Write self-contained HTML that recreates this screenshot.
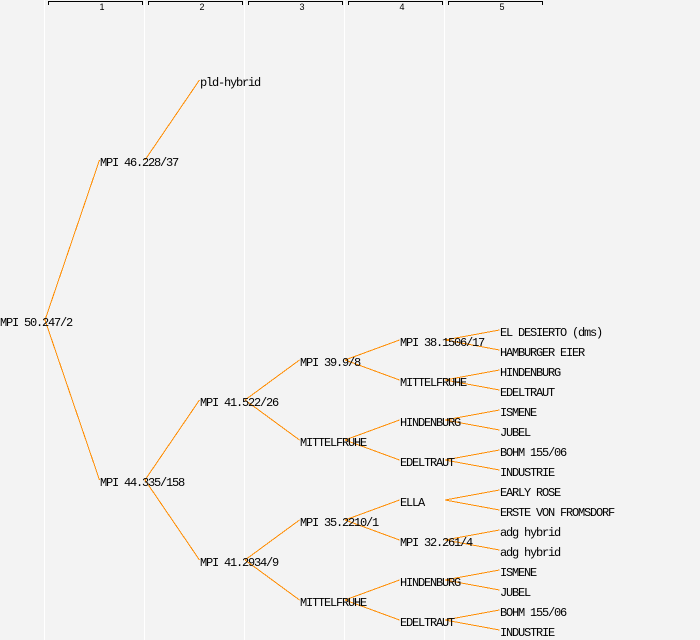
<!DOCTYPE html>
<html>
<head>
<meta charset="utf-8">
<style>
html,body{margin:0;padding:0;background:#f3f3f3;}
svg{display:block;}
text.n{font-family:"Liberation Mono",monospace;font-size:12px;letter-spacing:-1.2px;fill:#000;}
text.h{font-family:"Liberation Sans",sans-serif;font-size:9px;fill:#000;}
</style>
</head>
<body>
<svg width="700" height="640" viewBox="0 0 700 640" xmlns="http://www.w3.org/2000/svg">
<rect x="0" y="0" width="700" height="640" fill="#f3f3f3"/>
<g fill="#ffffff">
<rect x="44" y="0" width="1" height="640"/>
<rect x="144" y="0" width="1" height="640"/>
<rect x="244" y="0" width="1" height="640"/>
<rect x="344" y="0" width="1" height="640"/>
<rect x="444" y="0" width="1" height="640"/>
</g>
<g stroke="#000" stroke-width="1" fill="none" shape-rendering="crispEdges">
<path d="M48.5 5V1.5H142.5V5"/>
<path d="M148.5 5V1.5H242.5V5"/>
<path d="M248.5 5V1.5H342.5V5"/>
<path d="M348.5 5V1.5H442.5V5"/>
<path d="M448.5 5V1.5H542.5V5"/>
</g>
<g text-anchor="middle">
<text class="h" x="102" y="10">1</text>
<text class="h" x="202" y="10">2</text>
<text class="h" x="302" y="10">3</text>
<text class="h" x="402" y="10">4</text>
<text class="h" x="502" y="10">5</text>
</g>
<g stroke="#ff8c00" stroke-width="1" fill="none" shape-rendering="crispEdges">
<line x1="45" y1="320" x2="99.5" y2="160"/>
<line x1="45" y1="320" x2="99.5" y2="480"/>
<line x1="145" y1="160" x2="199.5" y2="80"/>
<line x1="145" y1="480" x2="199.5" y2="400"/>
<line x1="145" y1="480" x2="199.5" y2="560"/>
<line x1="245" y1="400" x2="299.5" y2="360"/>
<line x1="245" y1="400" x2="299.5" y2="440"/>
<line x1="245" y1="560" x2="299.5" y2="520"/>
<line x1="245" y1="560" x2="299.5" y2="600"/>
<line x1="345" y1="360" x2="399.5" y2="340"/>
<line x1="345" y1="360" x2="399.5" y2="380"/>
<line x1="345" y1="440" x2="399.5" y2="420"/>
<line x1="345" y1="440" x2="399.5" y2="460"/>
<line x1="345" y1="520" x2="399.5" y2="500"/>
<line x1="345" y1="520" x2="399.5" y2="540"/>
<line x1="345" y1="600" x2="399.5" y2="580"/>
<line x1="345" y1="600" x2="399.5" y2="620"/>
<line x1="445" y1="340" x2="499.5" y2="330"/>
<line x1="445" y1="340" x2="499.5" y2="350"/>
<line x1="445" y1="380" x2="499.5" y2="370"/>
<line x1="445" y1="380" x2="499.5" y2="390"/>
<line x1="445" y1="420" x2="499.5" y2="410"/>
<line x1="445" y1="420" x2="499.5" y2="430"/>
<line x1="445" y1="460" x2="499.5" y2="450"/>
<line x1="445" y1="460" x2="499.5" y2="470"/>
<line x1="445" y1="500" x2="499.5" y2="490"/>
<line x1="445" y1="500" x2="499.5" y2="510"/>
<line x1="445" y1="540" x2="499.5" y2="530"/>
<line x1="445" y1="540" x2="499.5" y2="550"/>
<line x1="445" y1="580" x2="499.5" y2="570"/>
<line x1="445" y1="580" x2="499.5" y2="590"/>
<line x1="445" y1="620" x2="499.5" y2="610"/>
<line x1="445" y1="620" x2="499.5" y2="630"/>
</g>
<g>
<text class="n" x="0" y="326">MPI 50.247/2</text>
<text class="n" x="100" y="166">MPI 46.228/37</text>
<text class="n" x="100" y="486">MPI 44.335/158</text>
<text class="n" x="200" y="86">pld-hybrid</text>
<text class="n" x="200" y="406">MPI 41.522/26</text>
<text class="n" x="200" y="566">MPI 41.2934/9</text>
<text class="n" x="300" y="366">MPI 39.9/8</text>
<text class="n" x="300" y="446">MITTELFRUHE</text>
<text class="n" x="300" y="526">MPI 35.2210/1</text>
<text class="n" x="300" y="606">MITTELFRUHE</text>
<text class="n" x="400" y="346">MPI 38.1506/17</text>
<text class="n" x="400" y="386">MITTELFRUHE</text>
<text class="n" x="400" y="426">HINDENBURG</text>
<text class="n" x="400" y="466">EDELTRAUT</text>
<text class="n" x="400" y="506">ELLA</text>
<text class="n" x="400" y="546">MPI 32.261/4</text>
<text class="n" x="400" y="586">HINDENBURG</text>
<text class="n" x="400" y="626">EDELTRAUT</text>
<text class="n" x="500" y="336">EL DESIERTO (dms)</text>
<text class="n" x="500" y="356">HAMBURGER EIER</text>
<text class="n" x="500" y="376">HINDENBURG</text>
<text class="n" x="500" y="396">EDELTRAUT</text>
<text class="n" x="500" y="416">ISMENE</text>
<text class="n" x="500" y="436">JUBEL</text>
<text class="n" x="500" y="456">BOHM 155/06</text>
<text class="n" x="500" y="476">INDUSTRIE</text>
<text class="n" x="500" y="496">EARLY ROSE</text>
<text class="n" x="500" y="516">ERSTE VON FROMSDORF</text>
<text class="n" x="500" y="536">adg hybrid</text>
<text class="n" x="500" y="556">adg hybrid</text>
<text class="n" x="500" y="576">ISMENE</text>
<text class="n" x="500" y="596">JUBEL</text>
<text class="n" x="500" y="616">BOHM 155/06</text>
<text class="n" x="500" y="636">INDUSTRIE</text>
</g>
</svg>
</body>
</html>
